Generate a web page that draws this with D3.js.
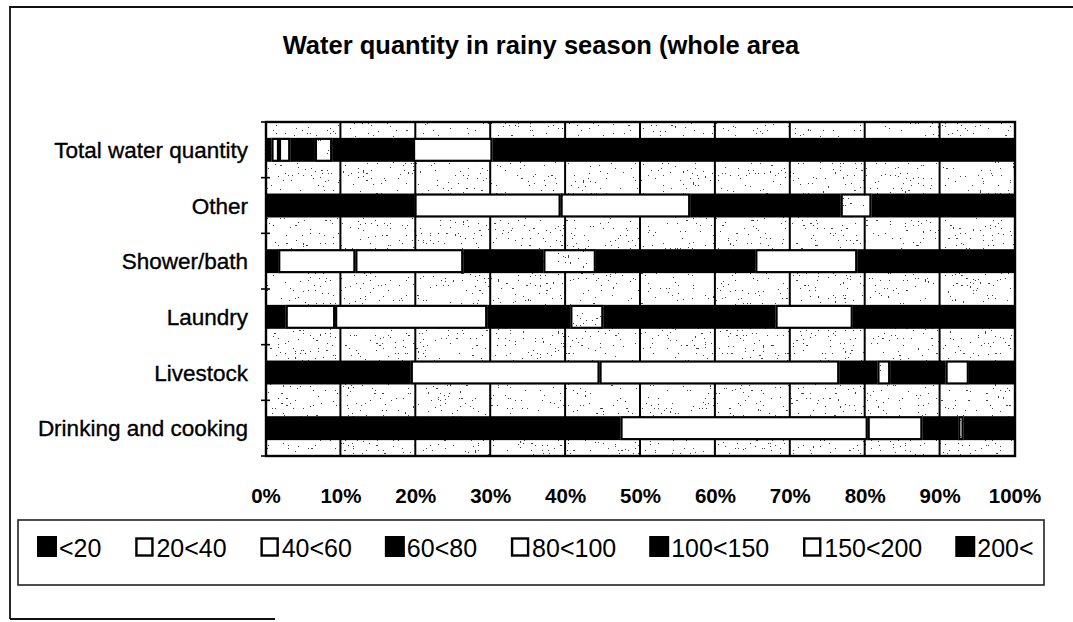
<!DOCTYPE html>
<html>
<head>
<meta charset="utf-8">
<script src="https://cdn.jsdelivr.net/npm/d3@7/dist/d3.min.js"></script>
<style>
  body { margin: 0; background: #fff; }
  svg { display: block; }
  text { font-family: "Liberation Sans", Arial, sans-serif; fill: #000; }
</style>
</head>
<body>
<svg id="chart" width="1073" height="622"></svg>
<script>
// Share of households (%) by daily water quantity class, rainy season
const categories = ["Total water quantity", "Other", "Shower/bath", "Laundry", "Livestock", "Drinking and cooking"];
const seriesNames = ["<20", "20<40", "40<60", "60<80", "80<100", "100<150", "150<200", "200<"];

const lt20      = [0.8, 19.9,  1.7,  2.7, 19.4, 47.4];
const s20to40   = [1.0, 19.5, 10.3,  6.6, 25.2, 33.0];
const s40to60   = [1.5, 17.3, 14.4, 20.3, 32.0,  7.3];
const s60to80   = [3.3, 20.1, 10.7, 11.1,  5.1,  4.8];
const s80to100  = [2.3,  4.1,  7.0,  4.4,  1.7,  0.7];
const s100to150 = [10.8, 19.1, 21.3, 23.0, 7.4,  6.8];
const s150to200 = [10.6, 0,   13.6, 10.3,  3.1,  0];
const gt200     = [69.7, 0,   21.0, 21.6,  6.1,  0];

const xTicks = [0, 10, 20, 30, 40, 50, 60, 70, 80, 90, 100];

const seriesValues = [lt20, s20to40, s40to60, s60to80, s80to100, s100to150, s150to200, gt200];
// fill style per class: solid black, white, or dotted
const seriesStyle = ["black", "white", "white", "black", "dots", "black", "white", "black"];

const rows = categories.map((c, i) => {
  const r = { category: c };
  seriesNames.forEach((s, j) => { r[s] = seriesValues[j][i]; });
  return r;
});

const svg = d3.select("#chart");

// speckled texture used for the plot background and the 80<100 class
const defs = svg.append("defs");
const f = defs.append("filter").attr("id", "speck")
  .attr("x", 0).attr("y", 0).attr("width", 1).attr("height", 1)
  .attr("color-interpolation-filters", "sRGB");
f.append("feTurbulence").attr("type", "fractalNoise").attr("baseFrequency", 0.6)
  .attr("numOctaves", 1).attr("seed", 11).attr("result", "noise");
f.append("feColorMatrix").attr("in", "noise").attr("type", "matrix")
  .attr("values", "0 0 0 0 0.12  0 0 0 0 0.12  0 0 0 0 0.12  1 0 0 0 0").attr("result", "a");
const ct = f.append("feComponentTransfer").attr("in", "a");
ct.append("feFuncA").attr("type", "discrete")
  .attr("tableValues", "0 0 0 0 0 0 0 0 0 0 0 0 0 0 0 0 0 0 0.85 0.85 0.85 0.85 0.85 0.85 0.85");

const plot = { left: 266, right: 1015, top: 122, bottom: 456 };

const x = d3.scaleLinear().domain([0, 100]).range([265.5, 1014.5]);
const y = d3.scaleBand().domain(categories)
  .range([plot.top, plot.bottom]).paddingInner(0.57).paddingOuter(0.285);

// outer frame
svg.append("path")
  .attr("d", "M10,619 L10,7 L1073,7")
  .attr("fill", "none").attr("stroke", "#111").attr("stroke-width", 1.8);
svg.append("line").attr("x1", 10).attr("x2", 275).attr("y1", 619).attr("y2", 619)
  .attr("stroke", "#111").attr("stroke-width", 1.8);

// title
const title = svg.append("text")
  .attr("x", 541).attr("y", 54)
  .attr("text-anchor", "middle")
  .attr("font-weight", "bold")
  .attr("font-size", 26)
  .text("Water quantity in rainy season (whole area");
const tw = title.node().getComputedTextLength();
title.attr("font-size", 26 * 517 / tw);

// plot background
const bg = svg.append("g");
bg.append("rect").attr("x", plot.left).attr("y", plot.top)
  .attr("width", plot.right - plot.left).attr("height", plot.bottom - plot.top)
  .attr("fill", "#fff");
bg.append("rect").attr("x", plot.left).attr("y", plot.top)
  .attr("width", plot.right - plot.left).attr("height", plot.bottom - plot.top)
  .attr("fill", "#000").attr("filter", "url(#speck)");

// vertical gridlines
svg.append("g").selectAll("line")
  .data(xTicks.filter(t => t > 0 && t < 100))
  .join("line")
  .attr("x1", d => x(d)).attr("x2", d => x(d))
  .attr("y1", plot.top).attr("y2", plot.bottom)
  .attr("stroke", "#000").attr("stroke-width", 2);

// stacked bars
const stacked = d3.stack().keys(seriesNames)(rows);
const bh = y.bandwidth();
const layers = svg.append("g").selectAll("g")
  .data(stacked)
  .join("g");

layers.each(function (layer, li) {
  const style = seriesStyle[li];
  const g = d3.select(this);
  const segs = layer.filter(d => d[1] - d[0] > 0);
  if (style === "black") {
    g.selectAll("rect").data(segs).join("rect")
      .attr("x", d => x(d[0]))
      .attr("y", d => y(d.data.category))
      .attr("width", d => x(d[1]) - x(d[0]))
      .attr("height", bh)
      .attr("fill", "#000");
  } else {
    g.selectAll("rect.box").data(segs).join("rect")
      .attr("class", "box")
      .attr("x", d => x(d[0]) + 1)
      .attr("y", d => y(d.data.category) + 1)
      .attr("width", d => Math.max(0.5, x(d[1]) - x(d[0]) - 2))
      .attr("height", bh - 2)
      .attr("fill", "#fff")
      .attr("stroke", "#000").attr("stroke-width", 2.2);
    if (style === "dots") {
      g.selectAll("rect.dots").data(segs).join("rect")
        .attr("class", "dots")
        .attr("x", d => x(d[0]) + 2)
        .attr("y", d => y(d.data.category) + 2)
        .attr("width", d => Math.max(0.5, x(d[1]) - x(d[0]) - 4))
        .attr("height", bh - 4)
        .attr("fill", "#000").attr("filter", "url(#speck)");
    }
  }
});

// plot border
svg.append("rect").attr("x", plot.left).attr("y", plot.top)
  .attr("width", plot.right - plot.left).attr("height", plot.bottom - plot.top)
  .attr("fill", "none").attr("stroke", "#000").attr("stroke-width", 2.4);

// category tick marks on the vertical axis
const step = y.step();
svg.append("g").selectAll("line")
  .data(d3.range(categories.length + 1))
  .join("line")
  .attr("x1", plot.left - 5).attr("x2", plot.left + 4)
  .attr("y1", i => plot.top + i * step).attr("y2", i => plot.top + i * step)
  .attr("stroke", "#000").attr("stroke-width", 1.6);

// category labels
const yAxis = svg.append("g")
  .attr("transform", "translate(248,0)")
  .call(d3.axisLeft(y).tickSize(0).tickPadding(0));
yAxis.select(".domain").remove();
yAxis.selectAll("text")
  .attr("font-family", "\"Liberation Sans\", Arial, sans-serif")
  .attr("font-size", 22.5)
  .attr("fill", "#000")
  .attr("stroke", "#000").attr("stroke-width", 0.35)
  .attr("dy", "0.36em");

// percentage labels
const xAxis = svg.append("g")
  .attr("transform", "translate(0,503)")
  .call(d3.axisBottom(x).tickValues(xTicks).tickFormat(d => d + "%").tickSize(0).tickPadding(0));
xAxis.select(".domain").remove();
xAxis.selectAll("text")
  .attr("font-family", "\"Liberation Sans\", Arial, sans-serif")
  .attr("font-size", 20.5)
  .attr("font-weight", "bold")
  .attr("fill", "#000")
  .attr("y", 0).attr("dy", null);

// legend
const lg = svg.append("g");
lg.append("rect").attr("x", 18).attr("y", 520).attr("width", 1026).attr("height", 65)
  .attr("fill", "#fff").attr("stroke", "#222").attr("stroke-width", 1.6);

let lx = 37;
seriesNames.forEach((name, i) => {
  const style = seriesStyle[i];
  const item = lg.append("g");
  if (style === "black") {
    item.append("rect").attr("x", lx).attr("y", 536).attr("width", 20).attr("height", 21)
      .attr("fill", "#000");
  } else {
    item.append("rect").attr("x", lx + 2).attr("y", 538.5).attr("width", 16).attr("height", 17)
      .attr("fill", "#fff").attr("stroke", "#000").attr("stroke-width", 2.4);
  }
  const t = item.append("text")
    .attr("x", lx + 22).attr("y", 557)
    .attr("font-size", 25)
    .text(name);
  lx = lx + 22 + t.node().getComputedTextLength() + 33;
});
</script>
</body>
</html>
